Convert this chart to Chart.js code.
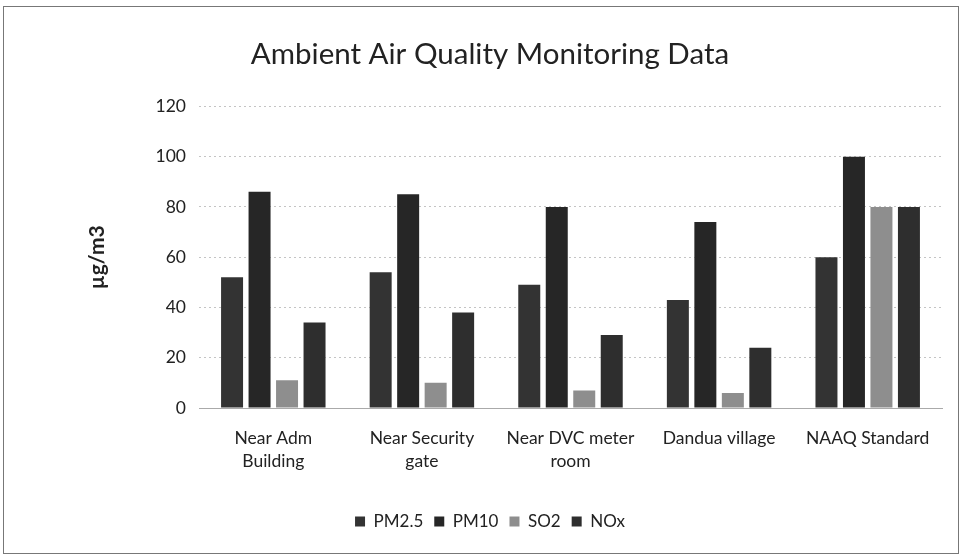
<!DOCTYPE html>
<html>
<head>
<meta charset="utf-8">
<script src="https://cdn.jsdelivr.net/npm/chart.js@4/dist/chart.umd.min.js"></script>
<style>
  html, body { margin: 0; padding: 0; background: #fff; }
  #wrap { position: relative; width: 962px; height: 558px; }
  #frame { position: absolute; left: 3px; top: 6px; width: 954px; height: 546px; border: 1px solid #777; pointer-events: none; }
  canvas { display: block; }
</style>
</head>
<body>
<div id="wrap">
  <canvas id="c" width="962" height="558"></canvas>
  <div id="frame"></div>
</div>
<script>
const categories = [["Near Adm", "Building"], ["Near Security", "gate"], ["Near DVC meter", "room"], "Dandua village", "NAAQ Standard"];
const pm25 = [52, 54, 49, 43, 60];
const pm10 = [86, 85, 80, 74, 100];
const so2 = [11, 10, 7, 6, 80];
const nox = [34, 38, 29, 24, 80];
const yTicks = [0, 20, 40, 60, 80, 100, 120];

const FONT = "Lato, 'Open Sans', 'Liberation Sans', sans-serif";

new Chart(document.getElementById('c'), {
  type: 'bar',
  data: {
    labels: categories,
    datasets: [
      { label: 'PM2.5', data: pm25, backgroundColor: '#333333' },
      { label: 'PM10', data: pm10, backgroundColor: '#262626' },
      { label: 'SO2', data: so2, backgroundColor: '#8e8e8e' },
      { label: 'NOx', data: nox, backgroundColor: '#2e2e2e' }
    ]
  },
  options: {
    responsive: false,
    animation: false,
    layout: { padding: { left: 38, right: 20, top: 0, bottom: 18 } },
    datasets: { bar: { categoryPercentage: 0.74, barPercentage: 0.8 } },
    plugins: {
      title: {
        display: true,
        text: 'Ambient Air Quality Monitoring Data',
        color: '#222',
        font: { family: FONT, size: 29.5, weight: 'normal' },
        padding: { top: 37, bottom: 34 }
      },
      legend: {
        position: 'bottom',
        labels: {
          color: '#222',
          font: { family: FONT, size: 17 },
          boxWidth: 10,
          boxHeight: 10,
          padding: 11
        }
      },
      tooltip: { enabled: false }
    },
    scales: {
      x: {
        grid: { display: false, drawTicks: false },
        border: { display: true, color: '#aaa', dash: [2, 3] },
        ticks: {
          color: '#222',
          font: { family: FONT, size: 17.5, lineHeight: 1.3 },
          padding: 19,
          maxRotation: 0,
          autoSkip: false
        },
        afterFit: s => { s.height = 94; }
      },
      y: {
        min: 0,
        max: 120,
        afterBuildTicks: s => { s.ticks = yTicks.map(v => ({ value: v })); },
        grid: { color: '#c4c4c4', drawTicks: false },
        border: { display: false, dash: [2, 3] },
        ticks: {
          color: '#222',
          font: { family: FONT, size: 17.5 },
          padding: 13
        },
        title: {
          display: true,
          text: 'µg/m3',
          color: '#222',
          font: { family: FONT, size: 21, weight: 'bold' },
          padding: { top: 47, bottom: 0 }
        },
        afterFit: s => { s.width = 161; }
      }
    }
  }
});
</script>
</body>
</html>
